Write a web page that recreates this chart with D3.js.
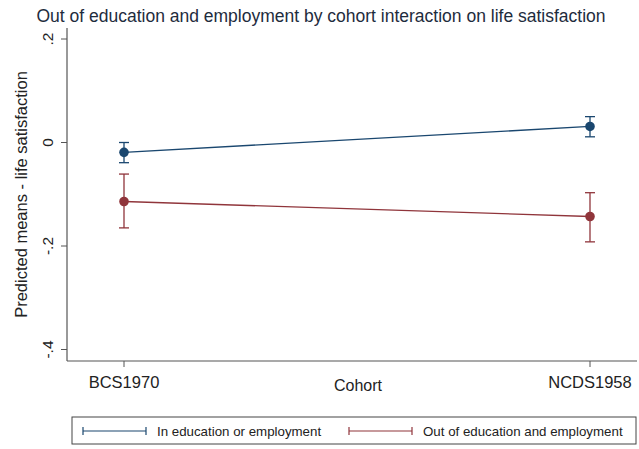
<!DOCTYPE html>
<html><head><meta charset="utf-8">
<script src="https://cdn.jsdelivr.net/npm/d3@7"></script>
<style>body{margin:0;background:#fff}svg{display:block}text{font-family:"Liberation Sans",Arial,sans-serif}</style>
</head><body><svg id="c" width="639" height="449"></svg>
<script>
const cohorts = ["BCS1970", "NCDS1958"];
const seriesNames = ["In education or employment", "Out of education and employment"];
const inEduMean = [-0.019, 0.031];
const inEduLo = [-0.039, 0.011];
const inEduHi = [0.000, 0.050];
const outEduMean = [-0.114, -0.143];
const outEduLo = [-0.165, -0.192];
const outEduHi = [-0.061, -0.097];
const yTicks = [0.2, 0, -0.2, -0.4];
const yTickLabels = [".2", "0", "-.2", "-.4"];
const colors = ["#1a476f", "#90353b"];

const svg = d3.select("#c");
const axisColor = "#555";
const y = d3.scaleLinear().domain([-0.4, 0.2]).range([349.5, 39]);
const yTop = 28, yBot = 361;
const x = d3.scalePoint().domain(cohorts).range([124, 590]);
const xLeft = 67, xRight = 637;

// title
svg.append("text").attr("x", 321).attr("y", 22).attr("text-anchor", "middle")
  .attr("font-size", 17.5).attr("fill", "#1e2c3d").text("Out of education and employment by cohort interaction on life satisfaction");

// y axis
const gy = svg.append("g");
gy.append("line").attr("x1", xLeft).attr("x2", xLeft).attr("y1", yTop).attr("y2", yBot).attr("stroke", axisColor).attr("stroke-width", 1.2);
yTicks.forEach((t, i) => {
  gy.append("line").attr("x1", xLeft - 6).attr("x2", xLeft).attr("y1", y(t)).attr("y2", y(t)).attr("stroke", axisColor).attr("stroke-width", 1);
  gy.append("text").attr("transform", `translate(${xLeft - 14},${y(t)}) rotate(-90)`)
    .attr("text-anchor", "middle").attr("font-size", 15.5).attr("fill", "#222").text(yTickLabels[i]);
});
svg.append("text").attr("transform", `translate(27,${(yTop + yBot) / 2}) rotate(-90)`)
  .attr("text-anchor", "middle").attr("font-size", 16.5).attr("fill", "#222").text("Predicted means - life satisfaction");

// x axis
const gx = svg.append("g");
gx.append("line").attr("x1", xLeft).attr("x2", xRight).attr("y1", yBot).attr("y2", yBot).attr("stroke", axisColor).attr("stroke-width", 1.2);
cohorts.forEach(c => {
  gx.append("line").attr("x1", x(c)).attr("x2", x(c)).attr("y1", yBot).attr("y2", yBot + 6).attr("stroke", axisColor);
  gx.append("text").attr("x", x(c)).attr("y", 388).attr("text-anchor", "middle").attr("font-size", 16.5).attr("fill", "#222").text(c);
});
svg.append("text").attr("x", 358).attr("y", 391).attr("text-anchor", "middle").attr("font-size", 16).attr("fill", "#222").text("Cohort");

// series
const series = [
  {mean: inEduMean, lo: inEduLo, hi: inEduHi},
  {mean: outEduMean, lo: outEduLo, hi: outEduHi}
];
series.forEach((s, si) => {
  const col = colors[si];
  const g = svg.append("g");
  const pts = cohorts.map((c, i) => [x(c), y(s.mean[i])]);
  g.append("path").attr("d", d3.line()(pts)).attr("fill", "none").attr("stroke", col).attr("stroke-width", 1.3);
  cohorts.forEach((c, i) => {
    const cx = x(c);
    g.append("line").attr("x1", cx).attr("x2", cx).attr("y1", y(s.lo[i])).attr("y2", y(s.hi[i])).attr("stroke", col).attr("stroke-width", 1.3);
    [s.lo[i], s.hi[i]].forEach(v => g.append("line").attr("x1", cx - 5).attr("x2", cx + 5).attr("y1", y(v)).attr("y2", y(v)).attr("stroke", col).attr("stroke-width", 1.3));
    g.append("circle").attr("cx", cx).attr("cy", y(s.mean[i])).attr("r", 4.8).attr("fill", col);
  });
});

// legend
const lg = svg.append("g");
lg.append("rect").attr("x", 72).attr("y", 417).attr("width", 564).attr("height", 27).attr("fill", "#fff").attr("stroke", "#444").attr("stroke-width", 1);
const legX = [83, 349];
seriesNames.forEach((n, i) => {
  const lx = legX[i], ly = 431;
  const col = colors[i];
  lg.append("line").attr("x1", lx).attr("x2", lx + 63).attr("y1", ly).attr("y2", ly).attr("stroke", col).attr("stroke-width", 1.2);
  [lx, lx + 63].forEach(px => lg.append("line").attr("x1", px).attr("x2", px).attr("y1", ly - 4).attr("y2", ly + 4).attr("stroke", col).attr("stroke-width", 1.2));
  lg.append("text").attr("x", lx + 74).attr("y", ly + 4.5).attr("font-size", 13.3).attr("fill", "#222").text(n);
});
</script></body></html>
